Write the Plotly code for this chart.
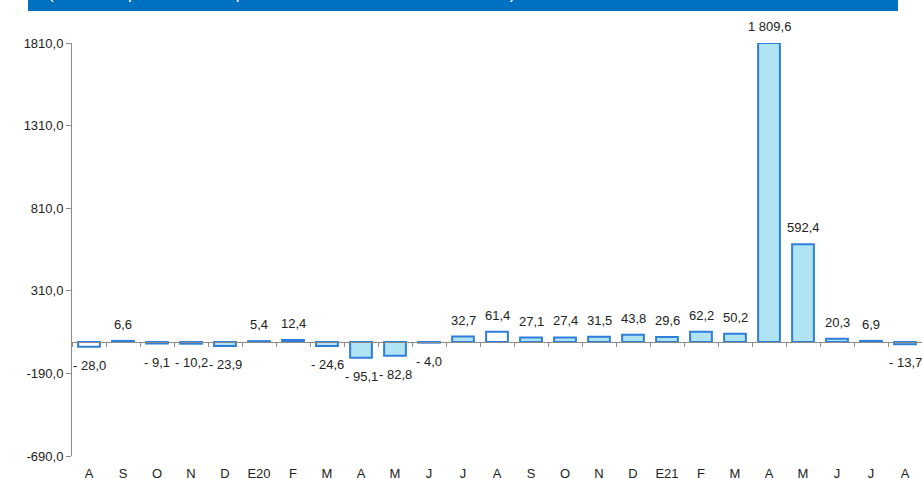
import plotly.graph_objects as go

months = ["A", "S", "O", "N", "D", "E20", "F", "M", "A", "M", "J", "J", "A",
          "S", "O", "N", "D", "E21", "F", "M", "A", "M", "J", "J", "A"]
values = [-28.0, 6.6, -9.1, -10.2, -23.9, 5.4, 12.4, -24.6, -95.1, -82.8, -4.0, 32.7, 61.4,
          27.1, 27.4, 31.5, 43.8, 29.6, 62.2, 50.2, 1809.6, 592.4, 20.3, 6.9, -13.7]
highlight = [True] + [False] * 11 + [True] + [False] * 12
ytick_vals = [-690, -190, 310, 810, 1310, 1810]

FONT = "Liberation Sans"
LIGHT = "#B0E4F2"
EDGE = "#2F7FDA"


def fmt(v):
    s = f"{abs(v):,.1f}".replace(",", " ").replace(".", ",")
    return ("- " + s) if v < 0 else s


xs = list(range(len(values)))
fills = ["white" if h else LIGHT for h in highlight]

fig = go.Figure()
fig.add_trace(go.Bar(
    x=xs, y=values, width=0.64,
    marker=dict(color=fills, line=dict(color=EDGE, width=2)),
    showlegend=False, hoverinfo="skip",
))

# dummy trace on label axis
fig.add_trace(go.Scatter(x=xs, y=[0] * len(xs), xaxis="x2", mode="markers",
                         marker=dict(opacity=0), showlegend=False, hoverinfo="skip"))

ann = []
for x, v in zip(xs, values):
    ann.append(dict(x=x, y=v, xref="x", yref="y", text=fmt(v), showarrow=False,
                    yanchor="bottom" if v >= 0 else "top",
                    yshift=7 if v >= 0 else -9,
                    font=dict(family=FONT, size=13, color="#222222")))

ymin, ymax = ytick_vals[0], ytick_vals[-1]
zero_pos = (0 - ymin) / (ymax - ymin)

# header bar
fig.add_shape(type="rect", xref="paper", yref="paper",
              x0=(28 - 72) / 850, x1=(898 - 72) / 850,
              y0=(456 - 11) / 413, y1=(456 + 20) / 413,
              fillcolor="#0070C0", line=dict(width=0), layer="above")
ann.append(dict(xref="paper", yref="paper", x=(46 - 72) / 850, xanchor="left",
                y=(456 - 5) / 413, yanchor="bottom", showarrow=False,
                text="(Variación porcentual respecto al mismo mes del año anterior)",
                font=dict(family=FONT, size=17, color="white")))

fig.update_layout(
    width=922, height=479,
    margin=dict(l=72, r=0, t=43, b=23),
    paper_bgcolor="white", plot_bgcolor="white",
    annotations=ann,
    xaxis=dict(range=[-0.5, len(xs) - 0.5], anchor="free", position=zero_pos,
               automargin=False,
               showline=True, linecolor="#8C8C8C", linewidth=1,
               tickvals=[i - 0.5 for i in range(len(xs) + 1)],
               ticks="outside", ticklen=4, tickcolor="#8C8C8C",
               showticklabels=False, showgrid=False, zeroline=False),
    xaxis2=dict(range=[-0.5, len(xs) - 0.5], overlaying="x", anchor="y", side="bottom",
                automargin=False,
                matches="x", tickvals=xs, ticktext=months, showline=False,
                ticks="outside", ticklen=5, tickcolor="rgba(0,0,0,0)",
                tickfont=dict(family=FONT, size=13, color="#222222"),
                showgrid=False, zeroline=False),
    yaxis=dict(range=[ymin, ymax], tickvals=ytick_vals, automargin=False,
               ticktext=[f"{v:.1f}".replace(".", ",") for v in ytick_vals],
               showline=True, linecolor="#8C8C8C", linewidth=1,
               ticks="outside", ticklen=5, tickcolor="#8C8C8C",
               tickfont=dict(family=FONT, size=13, color="#222222"),
               showgrid=False, zeroline=False),
)

fig.write_html("out.html", config={"displayModeBar": False},
               post_script="document.body.style.margin='0';")
